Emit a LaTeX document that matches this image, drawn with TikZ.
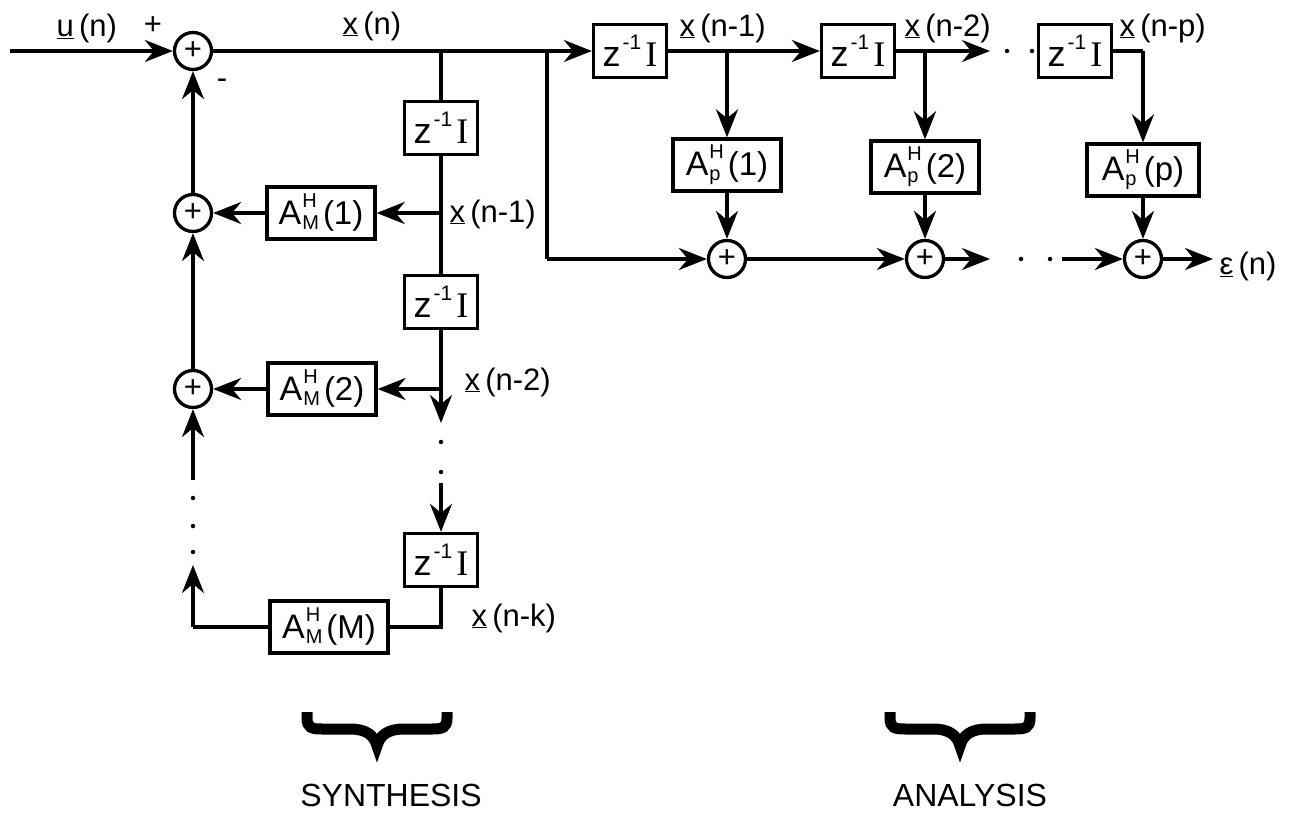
\documentclass[tikz,border=0pt]{standalone}
\usepackage{fontspec}
\setmainfont{Liberation Sans}
\newfontfamily\serifI{Liberation Serif}
\usetikzlibrary{arrows.meta}
\newcommand\fs[1]{\fontsize{#1}{#1}\selectfont}
\newcommand\zI{{\fs{36}z}\hspace{2pt}\raisebox{17pt}{\fs{21}-1}\hspace{4pt}{\serifI\fs{36}I}}
\newcommand\Ablk[2]{{\fs{34}A}\hspace{1pt}\ooalign{\raisebox{17pt}{\fs{20}H}\cr\raisebox{-5pt}{\fs{20}#1}\cr}\hspace{4pt}{\fs{33}(#2)}}
\newcommand\vx{\underline{x}}
\begin{document}
\begin{tikzpicture}[x=1pt,y=-1pt, line width=3.3pt,
  font=\fontsize{31}{34}\selectfont,
  arr/.style={-{Stealth[length=28pt,width=22pt,inset=9pt]}},
  zbox/.style={draw, minimum width=73pt, minimum height=53pt, inner sep=0pt},
  abox/.style={draw, minimum width=108pt, minimum height=52pt, inner sep=0pt},
  sumc/.style={draw, circle, minimum size=37pt, inner sep=0pt, font=\fontsize{31}{31}\selectfont},
  lbl/.style={anchor=west, inner sep=0pt},
  dotn/.style={circle, fill, inner sep=0pt, minimum size=4.5pt},
  bracec/.style={line width=11pt, line join=miter},
  brc/.pic={\draw[bracec] (-70,712) -- (-70,718) .. controls (-70,728) and (-65,729) .. (-55,729) -- (-27,729) .. controls (-11,729) and (-3,735) .. (0,746) .. controls (3,735) and (11,729) .. (27,729) -- (55,729) .. controls (65,729) and (70,728) .. (70,718) -- (70,712);}]
\useasboundingbox (0,0) rectangle (1291,818);

% ---------- nodes: synthesis ----------
\coordinate (in) at (10,51);
\node[sumc] (S0) at (193,51) {+};
\node[sumc] (S1) at (193,213) {+};
\node[sumc] (S2) at (193,389) {+};
\node[zbox] (zs1) at (441,128) {\zI};
\node[zbox] (zs2) at (441,302) {\zI};
\node[zbox] (zs3) at (441,560) {\zI};
\node[abox] (AM1) at (321,213) {\Ablk{M}{1}};
\node[abox] (AM2) at (322,389) {\Ablk{M}{2}};
\node[abox, minimum width=118pt] (AMM) at (329,627) {\Ablk{M}{M}};
\coordinate (j0) at (441,51);
\coordinate (b1) at (441,213);
\coordinate (b2) at (441,389);
\coordinate (t2) at (441,423);
\coordinate (d3) at (441,483);
\coordinate (b3) at (441,627);
\coordinate (c3) at (193,627);
\coordinate (t3) at (193,565);
\coordinate (s2in) at (193,480);
\node[dotn] (dA) at (441,442) {};
\node[dotn] (dB) at (441,472) {};
\node[dotn] (dC) at (193,498) {};
\node[dotn] (dD) at (193,526) {};
\node[dotn] (dE) at (193,552) {};

% ---------- nodes: analysis ----------
\node[zbox] (za1) at (630,51) {\zI};
\node[zbox] (za2) at (858,51) {\zI};
\node[zbox] (za3) at (1075,51) {\zI};
\node[abox] (Ap1) at (727,165) {\Ablk{p}{1}};
\node[abox] (Ap2) at (925,167) {\Ablk{p}{2}};
\node[abox, minimum width=112pt] (App) at (1143,170) {\Ablk{p}{p}};
\node[sumc] (Sa1) at (727,259) {+};
\node[sumc] (Sa2) at (925,259) {+};
\node[sumc] (Sa3) at (1143,259) {+};
\coordinate (j1) at (547,51);
\coordinate (c1) at (547,259);
\coordinate (j2) at (727,51);
\coordinate (j3) at (925,51);
\coordinate (j4) at (1143,51);
\coordinate (t4) at (990,51);
\coordinate (t5) at (990,259);
\coordinate (s5) at (1062,259);
\coordinate (t6) at (1213,259);
\node[dotn] (dF) at (1007,51) {};
\node[dotn] (dG) at (1032,51) {};
\node[dotn] (dH) at (1021,259) {};
\node[dotn] (dI) at (1050,259) {};

% ---------- connectors: synthesis ----------
\draw[arr] (in) -- (S0);
\draw[arr] (S0.east) -- (za1.west);
\draw (j0) -- (zs1.north);
\draw (zs1.south) -- (zs2.north);
\draw[arr] (b1) -- (AM1.east);
\draw[arr] (AM1.west) -- (S1.east);
\draw[arr] (S1.north) -- (S0.south);
\draw[arr] (zs2.south) -- (t2);
\draw[arr] (b2) -- (AM2.east);
\draw[arr] (AM2.west) -- (S2.east);
\draw[arr] (S2.north) -- (S1.south);
\draw[arr] (s2in) -- (S2.south);
\draw[arr] (d3) -- (zs3.north);
\draw (zs3.south) -- (b3) -- (AMM.east);
\draw (AMM.west) -- (c3);
\draw[arr] (c3) -- (t3);

% ---------- connectors: analysis ----------
\draw (j1) -- (c1);
\draw[arr] (c1) -- (Sa1.west);
\draw[arr] (za1.east) -- (za2.west);
\draw[arr] (j2) -- (Ap1.north);
\draw[arr] (Ap1.south) -- (Sa1.north);
\draw[arr] (za2.east) -- (t4);
\draw[arr] (j3) -- (Ap2.north);
\draw[arr] (Ap2.south) -- (Sa2.north);
\draw (za3.east) -- (j4);
\draw[arr] (j4) -- (App.north);
\draw[arr] (App.south) -- (Sa3.north);
\draw[arr] (Sa1.east) -- (Sa2.west);
\draw[arr] (Sa2.east) -- (t5);
\draw[arr] (s5) -- (Sa3.west);
\draw[arr] (Sa3.east) -- (t6);

% ---------- labels ----------
\node[lbl] (lu) at (55,28) {\underline{u}\,(n)};
\node (lplus) at (153,26) {+};
\node (lminus) at (222,84) {-};
\node (lxn) at (372,26) {\vx\,(n)};
\node[lbl] (ls1) at (448,214) {\vx\,(n-1)};
\node[lbl] (ls2) at (463,382) {\vx\,(n-2)};
\node[lbl] (lsk) at (470,618) {\vx\,(n-k)};
\node[lbl] (la1) at (678,28) {\vx\,(n-1)};
\node[lbl] (la2) at (903,28) {\vx\,(n-2)};
\node[lbl] (lap) at (1118,28) {\vx\,(n-p)};
\node[lbl] (le) at (1218,266) {\underline{ε}\,(n)};

% ---------- braces ----------
\pic at (377,0) {brc};
\pic at (960,0) {brc};
\node (syn) at (391,795) {\fs{32}SYNTHESIS};
\node (ana) at (970,795) {\fs{32}ANALYSIS};
\end{tikzpicture}
\end{document}
